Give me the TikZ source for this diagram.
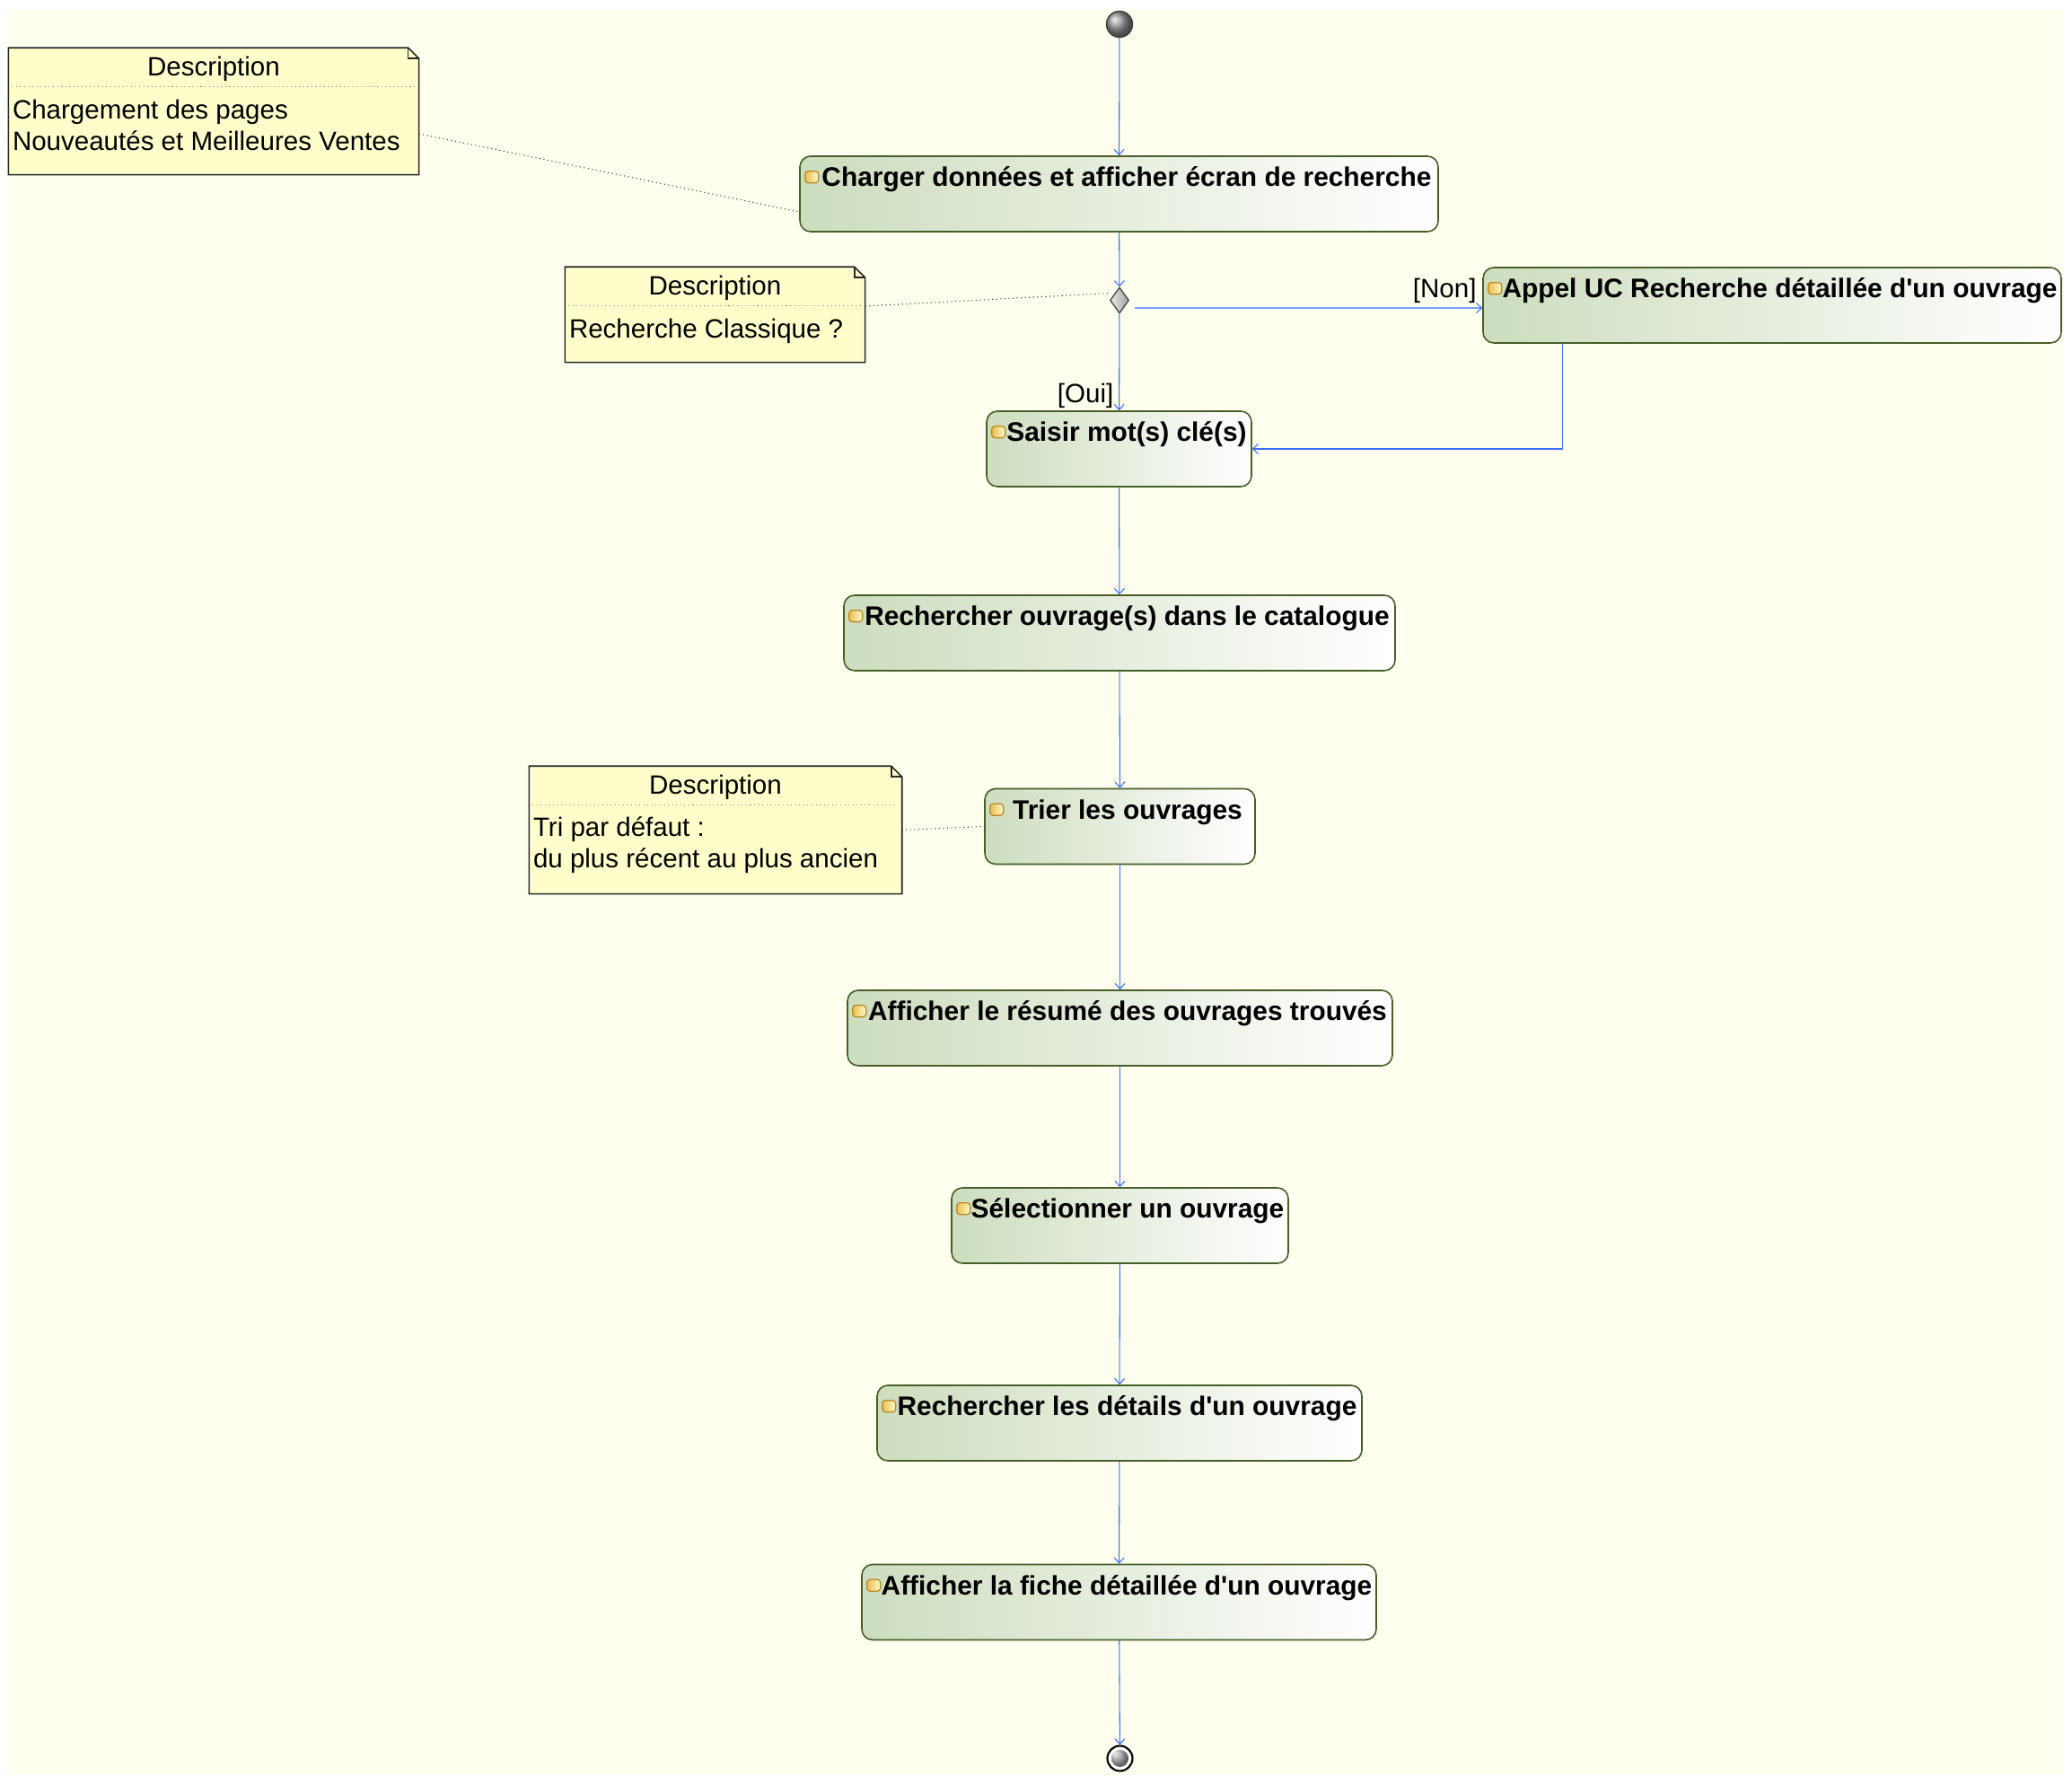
\documentclass[tikz,border=0pt]{standalone}
\usepackage{fontspec}
\setmainfont{Liberation Sans}
\usetikzlibrary{shapes.geometric,arrows.meta}

\definecolor{fondjaune}{RGB}{254,255,238}
\definecolor{notejaune}{RGB}{255,255,204}
\definecolor{actvert}{RGB}{205,221,190}
\definecolor{actbord}{RGB}{72,94,40}
\definecolor{flecheb}{RGB}{58,108,255}
\definecolor{icoclair}{RGB}{255,249,205}
\definecolor{icofonce}{RGB}{232,190,80}
\definecolor{icobord}{RGB}{185,135,35}

\tikzset{
    action/.style={draw=actbord, line width=0.45pt, rounded corners=0.12cm, left color=actvert, right color=white,
        inner xsep=0, inner ysep=0, text height=0.34cm, text depth=0.50cm, font=\fontsize{8.5}{10}\selectfont\bfseries},
    actico/.style={draw=icobord, line width=0.35pt, rounded corners=0.035cm, left color=icofonce, right color=icoclair,
        minimum width=0.15cm, minimum height=0.13cm, inner sep=0},
    flow/.style={draw=flecheb, line width=0.3pt, -{Straight Barb[length=0.06cm,width=0.11cm]}},
    notelink/.style={draw=black!80, line width=0.3pt, densely dotted},
    noteframe/.style={inner sep=0},
    noteline/.style={draw=black!85, line width=0.45pt, fill=notejaune},
    notesep/.style={draw=gray, line width=0.3pt, densely dotted},
    notetxt/.style={inner sep=0, font=\fontsize{8.4}{10}\selectfont},
    guard/.style={inner sep=0, font=\fontsize{8.4}{10}\selectfont},
    debut/.style={circle, draw=black!75, line width=0.4pt, ball color=gray!80, minimum size=0.29cm, inner sep=0},
    fin/.style={circle, draw=black, line width=0.6pt, fill=white, minimum size=0.28cm, inner sep=0,
        path picture={\shade[ball color=gray!80] (path picture bounding box.center) circle (0.095cm);}},
    choix/.style={diamond, draw=black!70, line width=0.4pt, left color=gray!15, right color=gray!75,
        minimum width=0.21cm, minimum height=0.29cm, inner sep=0}
}

\begin{document}
\begin{tikzpicture}%% recherche d'ouvrage

    \useasboundingbox (0, 0) rectangle (23.08, -19.87);
    \fill[fondjaune] (0.10, -0.10) rectangle (22.98, -19.77);


        %% notes
        \node[noteframe, minimum width=4.56cm, minimum height=1.40cm] (note1) at (2.38, -1.24) {};
            \filldraw[noteline] (note1.north west) -- ([xshift=-0.12cm]note1.north east) -- ([yshift=-0.12cm]note1.north east) -- (note1.south east) -- (note1.south west) -- cycle;
            \draw[noteline, fill=none] ([xshift=-0.12cm]note1.north east) |- ([yshift=-0.12cm]note1.north east);
            \draw[notesep] ([shift={(0.04,-0.43)}]note1.north west) -- ([shift={(-0.05,-0.43)}]note1.north east);
            \node[notetxt, anchor=base] (note1-head) at ([yshift=-0.315cm]note1.north) {Description};
            \node[notetxt, anchor=base west] (note1-l1) at ([shift={(0.04,-0.79)}]note1.north west) {Chargement des pages};
            \node[notetxt, anchor=base west] (note1-l2) at ([shift={(0.04,-1.14)}]note1.north west) {Nouveautés et Meilleures Ventes};

        \node[noteframe, minimum width=3.33cm, minimum height=1.05cm] (note2) at (7.965, -3.505) {};
            \filldraw[noteline] (note2.north west) -- ([xshift=-0.12cm]note2.north east) -- ([yshift=-0.12cm]note2.north east) -- (note2.south east) -- (note2.south west) -- cycle;
            \draw[noteline, fill=none] ([xshift=-0.12cm]note2.north east) |- ([yshift=-0.12cm]note2.north east);
            \draw[notesep] ([shift={(0.04,-0.43)}]note2.north west) -- ([shift={(-0.05,-0.43)}]note2.north east);
            \node[notetxt, anchor=base] (note2-head) at ([yshift=-0.315cm]note2.north) {Description};
            \node[notetxt, anchor=base west] (note2-l1) at ([shift={(0.04,-0.79)}]note2.north west) {Recherche Classique ?};

        \node[noteframe, minimum width=4.14cm, minimum height=1.41cm] (note3) at (7.97, -9.245) {};
            \filldraw[noteline] (note3.north west) -- ([xshift=-0.12cm]note3.north east) -- ([yshift=-0.12cm]note3.north east) -- (note3.south east) -- (note3.south west) -- cycle;
            \draw[noteline, fill=none] ([xshift=-0.12cm]note3.north east) |- ([yshift=-0.12cm]note3.north east);
            \draw[notesep] ([shift={(0.04,-0.43)}]note3.north west) -- ([shift={(-0.05,-0.43)}]note3.north east);
            \node[notetxt, anchor=base] (note3-head) at ([yshift=-0.315cm]note3.north) {Description};
            \node[notetxt, anchor=base west] (note3-l1) at ([shift={(0.04,-0.78)}]note3.north west) {Tri par défaut :};
            \node[notetxt, anchor=base west] (note3-l2) at ([shift={(0.04,-1.13)}]note3.north west) {du plus récent au plus ancien};


        %% activites
        \node[debut] (start) at (12.47, -0.27) {};
        \node[action, minimum width=7.11cm] (charger) at (12.465, -2.16) {\hspace*{0.17cm}Charger données et afficher écran de recherche};
        \node[choix] (decision) at (12.47, -3.345) {};
        \node[action, minimum width=6.44cm] (appel) at (19.74, -3.40) {\hspace*{0.17cm}Appel UC Recherche détaillée d\textquotesingle un ouvrage};
        \node[action, minimum width=2.95cm] (saisir) at (12.465, -5.00) {\hspace*{0.17cm}Saisir mot(s) clé(s)};
        \node[action, minimum width=6.14cm] (catalogue) at (12.47, -7.05) {\hspace*{0.17cm}Rechercher ouvrage(s) dans le catalogue};
        \node[action, minimum width=3.01cm] (trier) at (12.475, -9.205) {\hspace*{0.17cm}Trier les ouvrages};
        \node[action, minimum width=6.07cm] (resume) at (12.475, -11.45) {\hspace*{0.17cm}Afficher le résumé des ouvrages trouvés};
        \node[action, minimum width=3.75cm] (selection) at (12.475, -13.65) {\hspace*{0.17cm}Sélectionner un ouvrage};
        \node[action, minimum width=5.40cm] (details) at (12.47, -15.85) {\hspace*{0.17cm}Rechercher les détails d\textquotesingle un ouvrage};
        \node[action, minimum width=5.73cm] (fiche) at (12.465, -17.845) {\hspace*{0.17cm}Afficher la fiche détaillée d\textquotesingle un ouvrage};
        \node[fin] (end) at (12.475, -19.585) {};

            \node[actico] (ico-charger) at ([shift={(0.14,-0.24)}]charger.north west) {};
            \node[actico] (ico-appel) at ([shift={(0.14,-0.24)}]appel.north west) {};
            \node[actico] (ico-saisir) at ([shift={(0.14,-0.24)}]saisir.north west) {};
            \node[actico] (ico-catalogue) at ([shift={(0.14,-0.24)}]catalogue.north west) {};
            \node[actico] (ico-trier) at ([shift={(0.14,-0.24)}]trier.north west) {};
            \node[actico] (ico-resume) at ([shift={(0.14,-0.24)}]resume.north west) {};
            \node[actico] (ico-selection) at ([shift={(0.14,-0.24)}]selection.north west) {};
            \node[actico] (ico-details) at ([shift={(0.14,-0.24)}]details.north west) {};
            \node[actico] (ico-fiche) at ([shift={(0.14,-0.24)}]fiche.north west) {};


        %% transitions
        \draw[flow] (start) -- (charger);
        \draw[flow] (charger) -- (decision);
        \draw[flow] ([shift={(0.06,-0.085)}]decision.east) -- ([yshift=-0.03cm]appel.west);
            \node[guard, anchor=base east] (non) at ([shift={(-0.06,0.08)}]appel.west) {[Non]};
        \draw[flow] (decision) -- (saisir);
            \node[guard, anchor=base east] (oui) at ([shift={(-0.055,0.09)}]saisir.north) {[Oui]};
        \draw[flow] ([xshift=0.89cm]appel.south west) |- (saisir);
        \draw[flow] (saisir) -- (catalogue);
        \draw[flow] (catalogue) -- (trier);
        \draw[flow] (trier) -- (resume);
        \draw[flow] (resume) -- (selection);
        \draw[flow] (selection) -- (details);
        \draw[flow] (details) -- (fiche);
        \draw[flow] (fiche) -- (end);

        \draw[notelink] ([yshift=-0.25cm]note1.east) -- ([yshift=-0.20cm]charger.west);
        \draw[notelink] ([yshift=0.095cm]note2.east) -- ([yshift=0.08cm]decision.west);
        \draw[notelink] (note3.east) -- (trier.west);

\end{tikzpicture}
\end{document}
